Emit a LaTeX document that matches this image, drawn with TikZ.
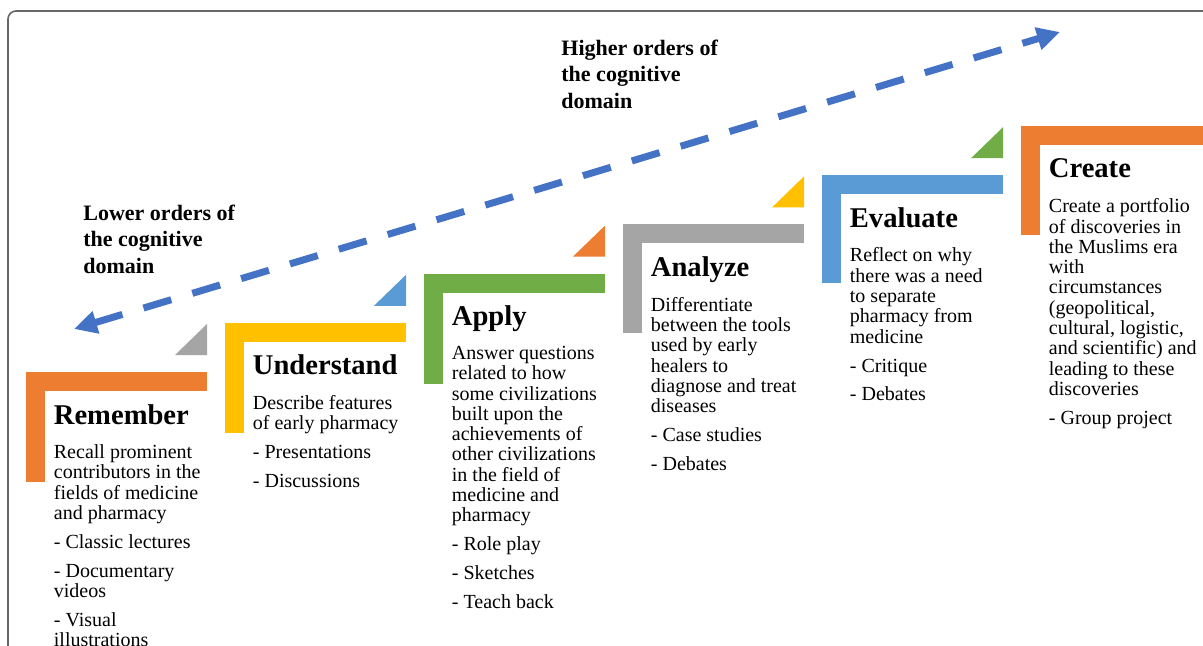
\documentclass[tikz,border=0pt]{standalone}
\usepackage{fontspec}
\setmainfont{Liberation Serif}
\usetikzlibrary{arrows.meta}
\definecolor{stepOrange}{HTML}{ED7D31}
\definecolor{stepYellow}{HTML}{FFC000}
\definecolor{stepGreen}{HTML}{70AD47}
\definecolor{stepGray}{HTML}{A5A5A5}
\definecolor{stepBlue}{HTML}{5B9BD5}
\definecolor{climbBlue}{HTML}{4472C4}
\begin{document}
\begin{tikzpicture}[x=0.5pt,y=-0.5pt,
   title/.style={anchor=base west,inner sep=0pt,font=\bfseries\fontsize{14.3}{16}\selectfont},
   body/.style={anchor=north west,inner sep=0pt,align=left,font=\fontsize{10}{10.15}\selectfont,
      execute at begin node=\strut},
   order/.style={anchor=north west,inner sep=0pt,align=left,font=\bfseries\fontsize{11}{13.25}\selectfont,
      execute at begin node=\strut},
   climb/.style={draw=climbBlue,line width=3.5pt,dash pattern=on 14.5pt off 11pt,
      {Triangle[length=11.5pt,width=11pt]}-{Triangle[length=11.5pt,width=11pt]}}]
   \clip (0,0) rectangle (1203,646);
   % frame
   \draw[gray!80!black,line width=0.8pt,rounded corners=4pt] (8,11) rectangle (1230,680);

   % Remember
   \fill[stepOrange] (26,372) rectangle ++(181,19);
   \fill[stepOrange] (26,372) rectangle ++(18.5,110);
   \fill[stepGray]   (175,355) -- (207,355) -- (207,324) -- cycle;
   \node[title] (remTitle) at (53.5,424) {Remember};
   \node[body]  (remText)  at (53.5,444.3) {Recall prominent\\contributors in the\\fields of medicine\\and pharmacy\\[4.3pt]
      - Classic lectures\\[4.3pt]- Documentary\\videos\\[4.3pt]- Visual\\illustrations};

   % Understand
   \fill[stepYellow] (225,322.8) rectangle ++(181,19);
   \fill[stepYellow] (225,322.8) rectangle ++(18.5,110);
   \fill[stepBlue]   (374,305.8) -- (406,305.8) -- (406,274.8) -- cycle;
   \node[title] (undTitle) at (252.5,374.8) {Understand};
   \node[body]  (undText)  at (252.5,395.1) {Describe features\\of early pharmacy\\[4.3pt]
      - Presentations\\[4.3pt]- Discussions};

   % Apply
   \fill[stepGreen]  (424,273.6) rectangle ++(181,19);
   \fill[stepGreen]  (424,273.6) rectangle ++(18.5,110);
   \fill[stepOrange] (573,256.6) -- (605,256.6) -- (605,225.6) -- cycle;
   \node[title] (appTitle) at (451.5,325.6) {Apply};
   \node[body]  (appText)  at (451.5,345.8) {Answer questions\\related to how\\some civilizations\\built upon the\\achievements of\\other civilizations\\in the field of\\medicine and\\pharmacy\\[4.3pt]
      - Role play\\[4.3pt]- Sketches\\[4.3pt]- Teach back};

   % Analyze
   \fill[stepGray]   (623,224.4) rectangle ++(181,19);
   \fill[stepGray]   (623,224.4) rectangle ++(18.5,109);
   \fill[stepYellow] (772,207.4) -- (804,207.4) -- (804,176.4) -- cycle;
   \node[title] (anaTitle) at (650.5,276.4) {Analyze};
   \node[body]  (anaText)  at (650.5,296.8) {Differentiate\\between the tools\\used by early\\healers to\\diagnose and treat\\diseases\\[4.3pt]
      - Case studies\\[4.3pt]- Debates};

   % Evaluate
   \fill[stepBlue]  (822,175.2) rectangle ++(181,19);
   \fill[stepBlue]  (822,175.2) rectangle ++(18.5,108);
   \fill[stepGreen] (971,158.2) -- (1003,158.2) -- (1003,127.2) -- cycle;
   \node[title] (evaTitle) at (849.5,227.2) {Evaluate};
   \node[body]  (evaText)  at (849.5,247.5) {Reflect on why\\there was a need\\to separate\\pharmacy from\\medicine\\[4.3pt]
      - Critique\\[4.3pt]- Debates};

   % Create
   \fill[stepOrange] (1021,126) rectangle (1203,145);
   \fill[stepOrange] (1021,126) rectangle ++(18.5,109);
   \node[title] (creTitle) at (1048.5,178) {Create};
   \node[body]  (creText)  at (1048.5,198.3) {Create a portfolio\\of discoveries in\\the Muslims era\\with\\circumstances\\(geopolitical,\\cultural, logistic,\\and scientific) and\\leading to these\\discoveries\\[4.3pt]
      - Group project};

   % cognitive domain arrow
   \node[order] (lowLabel)  at (83,204.5) {Lower orders of\\the cognitive\\domain};
   \node[order] (highLabel) at (561,39.5) {Higher orders of\\the cognitive\\domain};
   \coordinate (lowEnd)  at (74,329);
   \coordinate (highEnd) at (1060,32);
   \draw[climb] (lowEnd) -- (highEnd);
\end{tikzpicture}
\end{document}
